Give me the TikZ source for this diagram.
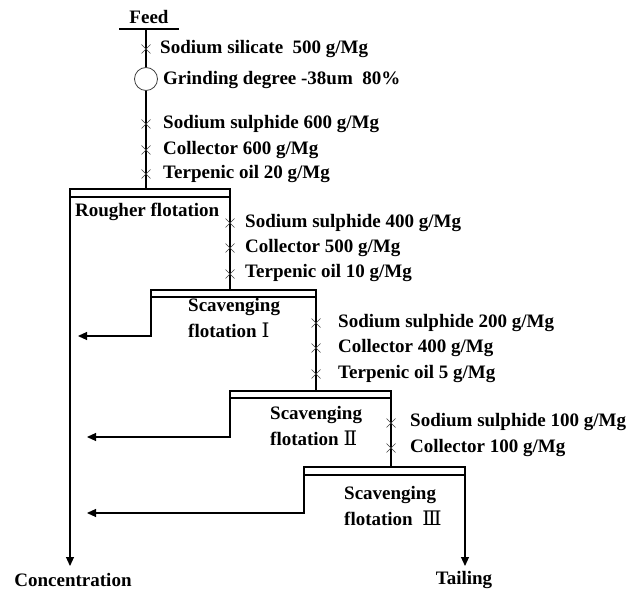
\documentclass[tikz,border=0pt]{standalone}
\usepackage{fontspec}
\setmainfont{Liberation Serif}
\newfontfamily\numfont{DejaVu Serif}
\usetikzlibrary{arrows.meta}
\tikzset{
  lbl/.style={font=\bfseries\fontsize{19}{21}\selectfont, anchor=west, inner sep=0pt},
  ctr/.style={font=\bfseries\fontsize{19}{21}\selectfont, anchor=center, inner sep=0pt},
  flow/.style={line width=1.1pt},
  celltop/.style={line width=2.6pt},
  arr/.style={line width=1.1pt, -{Triangle[length=9pt,width=8pt]}},
  xm/.pic={\draw[line width=0.6pt, black!75] (-4.5,-4.5)--(4.5,4.5) (-4.5,4.5)--(4.5,-4.5);}
}
\newcommand{\rnum}[1]{{\numfont\mdseries\fontsize{20}{21}\selectfont #1}}
\begin{document}
\begin{tikzpicture}[x=1pt,y=-1pt]
\useasboundingbox (0,0) rectangle (629,593);

% ---- feed ----
\node[ctr] (feed) at (149,17) {Feed};
\coordinate (ful) at (119,29);
\coordinate (fur) at (179,29);
\draw[flow] (ful) -- (fur);
\coordinate (fin) at (146,29);
\coordinate (rin) at (146,189);
\draw[flow] (fin) -- (rin);

\pic at (146,49) {xm};
\node[lbl] (ss) at (160,49) {Sodium silicate\ \ 500 g/Mg};
\node[draw, circle, minimum size=23pt, inner sep=0pt, line width=0.8pt, fill=white, draw=black!75] (grind) at (146,79) {};
\node[lbl] (gd) at (163,80) {Grinding degree -38um\ \ 80\%};
\pic at (146,124) {xm};
\node[lbl] (s1) at (163,124) {Sodium sulphide 600 g/Mg};
\pic at (146,150) {xm};
\node[lbl] (c1) at (163,150) {Collector 600 g/Mg};
\pic at (146,174) {xm};
\node[lbl] (t1) at (163,174) {Terpenic oil 20 g/Mg};

% ---- rougher ----
\coordinate (rtl) at (70,189);
\coordinate (rtr) at (230,189);
\coordinate (rbl) at (70,197);
\coordinate (rbr) at (230,197);
\draw[flow] (rtl) rectangle (rbr);
\draw[celltop] (rtl) -- (rtr);
\node[lbl] (rough) at (75,212) {Rougher flotation};
\coordinate (conc) at (70,566);
\draw[arr] (rbl) -- (conc);
\node[ctr] (concl) at (73,580) {Concentration};

\coordinate (s1in) at (230,290);
\draw[flow] (rbr) -- (s1in);
\pic at (230,223) {xm};
\node[lbl] (s2) at (245,223) {Sodium sulphide 400 g/Mg};
\pic at (230,248) {xm};
\node[lbl] (c2) at (245,248) {Collector 500 g/Mg};
\pic at (230,274) {xm};
\node[lbl] (t2) at (245,273) {Terpenic oil 10 g/Mg};

% ---- scavenging I ----
\coordinate (atl) at (151,290);
\coordinate (atr) at (316,290);
\coordinate (abl) at (151,297);
\coordinate (abr) at (316,297);
\draw[flow] (atl) rectangle (abr);
\draw[celltop] (atl) -- (atr);
\node[lbl] (sa1) at (188,307) {Scavenging};
\node[lbl] (sa2) at (188,330) {flotation \rnum{Ⅰ}};
\coordinate (ac) at (151,336);
\coordinate (acend) at (78,336);
\draw[arr] (abl) -- (ac) -- (acend);
\coordinate (bin) at (316,391);
\draw[flow] (abr) -- (bin);
\pic at (316,323) {xm};
\node[lbl] (s3) at (338,323) {Sodium sulphide 200 g/Mg};
\pic at (316,348) {xm};
\node[lbl] (c3) at (338,348) {Collector 400 g/Mg};
\pic at (316,374) {xm};
\node[lbl] (t3) at (338,374) {Terpenic oil 5 g/Mg};

% ---- scavenging II ----
\coordinate (btl) at (230,391);
\coordinate (btr) at (391,391);
\coordinate (bbl) at (230,398);
\coordinate (bbr) at (391,398);
\draw[flow] (btl) rectangle (bbr);
\draw[celltop] (btl) -- (btr);
\node[lbl] (sb1) at (270,415) {Scavenging};
\node[lbl] (sb2) at (270,438) {flotation \rnum{Ⅱ}};
\coordinate (bc) at (230,437);
\coordinate (bcend) at (87,437);
\draw[arr] (bbl) -- (bc) -- (bcend);
\coordinate (cin) at (391,467);
\draw[flow] (bbr) -- (cin);
\pic at (391,423) {xm};
\node[lbl] (s4) at (410,422) {Sodium sulphide 100 g/Mg};
\pic at (391,448) {xm};
\node[lbl] (c4) at (410,448) {Collector 100 g/Mg};

% ---- scavenging III ----
\coordinate (ctl) at (304,467);
\coordinate (ctr) at (465,467);
\coordinate (cbl) at (304,475);
\coordinate (cbr) at (465,475);
\draw[flow] (ctl) rectangle (cbr);
\draw[celltop] (ctl) -- (ctr);
\node[lbl] (sc1) at (344,495) {Scavenging};
\node[lbl] (sc2) at (344,518) {flotation\ \ \rnum{Ⅲ}};
\coordinate (cc) at (304,513);
\coordinate (ccend) at (87,513);
\draw[arr] (cbl) -- (cc) -- (ccend);
\coordinate (tail) at (465,566);
\draw[arr] (cbr) -- (tail);
\node[ctr] (taill) at (464,580) {Tailing};
\end{tikzpicture}
\end{document}
